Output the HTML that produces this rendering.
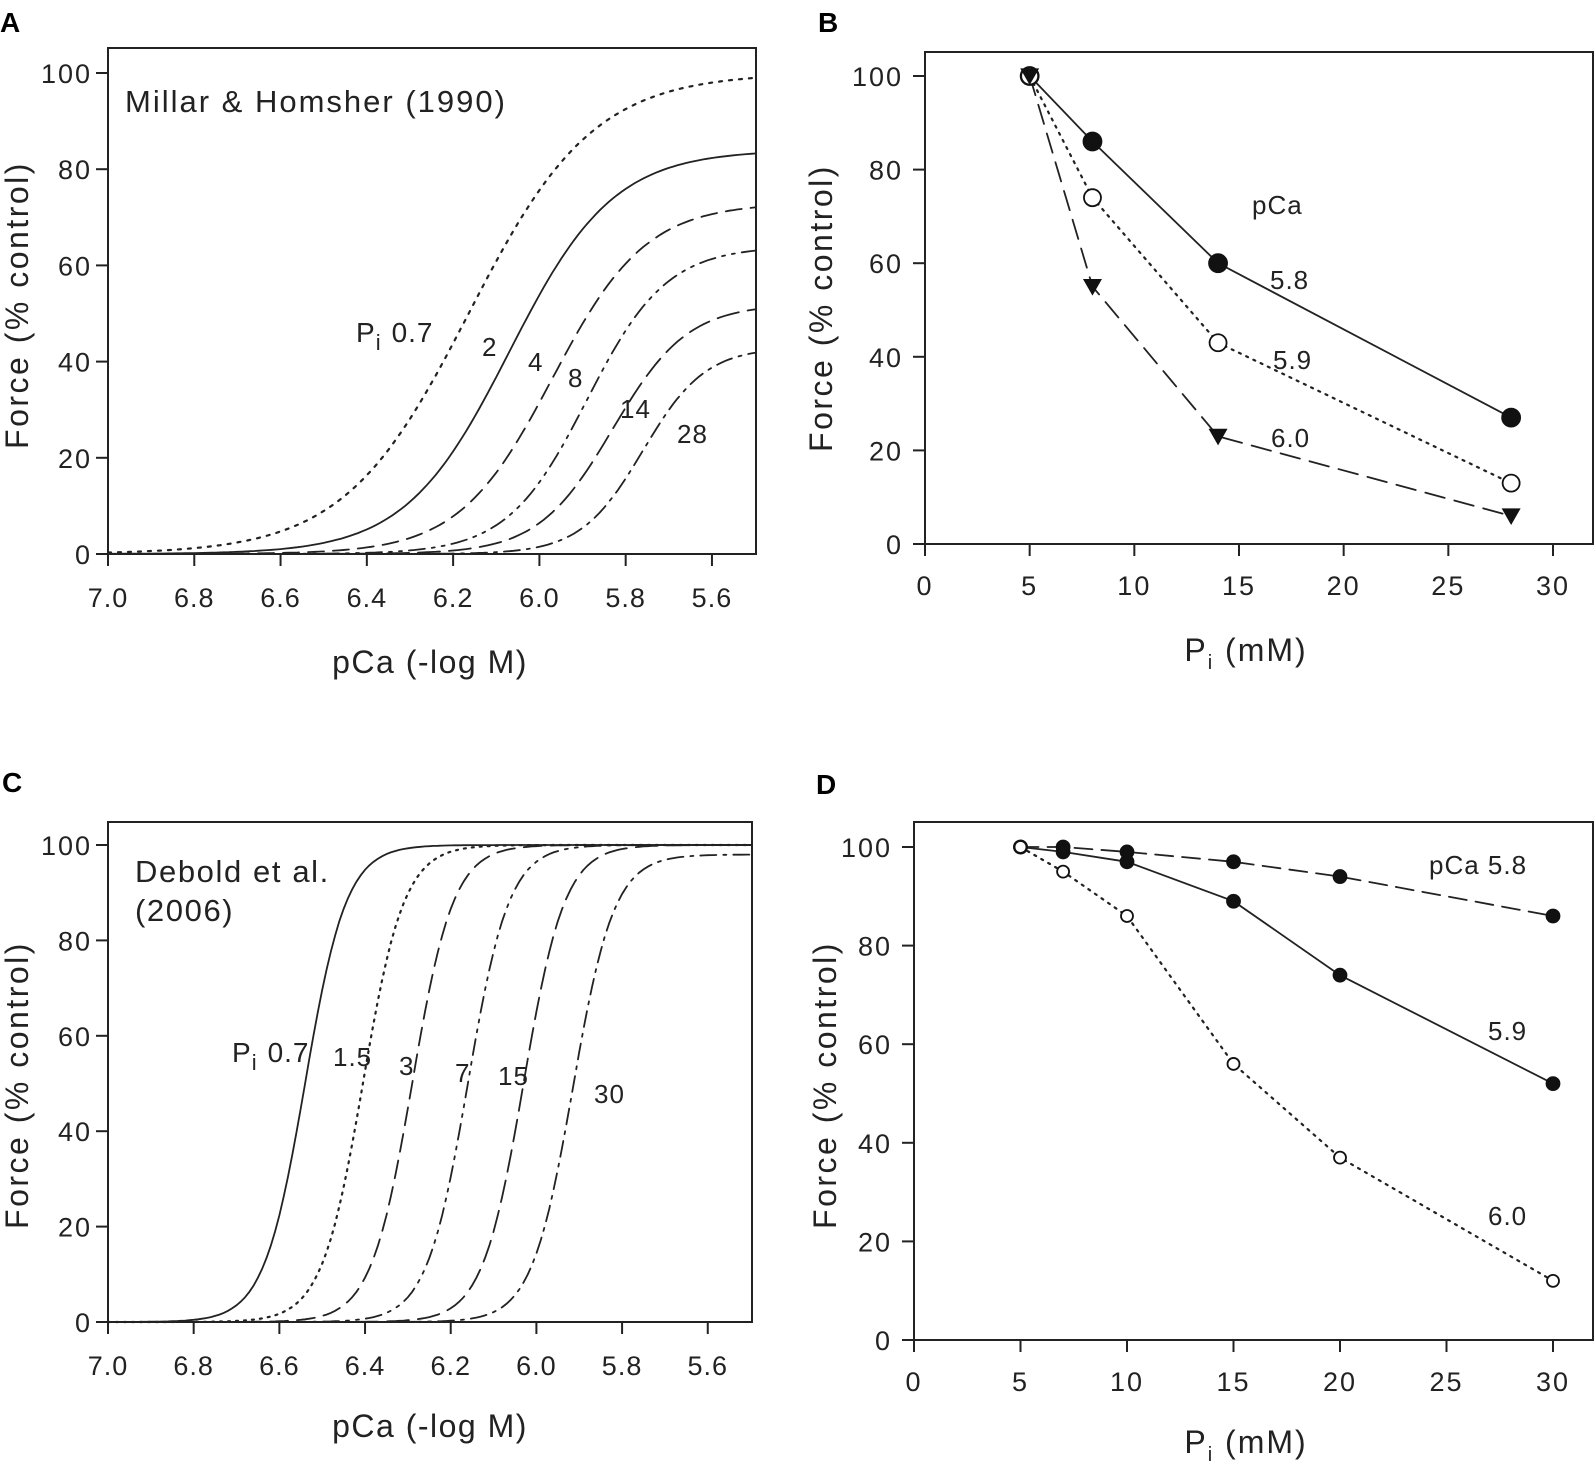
<!DOCTYPE html>
<html><head><meta charset="utf-8"><style>
html,body{margin:0;padding:0;background:#fff;}
svg{display:block;font-family:"Liberation Sans",Arial,sans-serif;}
</style></head><body>
<svg id="fig" width="1596" height="1462" viewBox="0 0 1596 1462">
<text x="0" y="32" font-size="28" font-weight="bold">A</text>
<text x="818" y="32" font-size="28" font-weight="bold">B</text>
<text x="2" y="792" font-size="28" font-weight="bold">C</text>
<text x="816" y="794" font-size="28" font-weight="bold">D</text>
<text x="125" y="112" font-size="31" letter-spacing="2" fill="#222">Millar &amp; Homsher (1990)</text>
<text x="135" y="882" font-size="31" letter-spacing="1.6" fill="#222">Debold et al.</text>
<text x="135" y="921" font-size="31" letter-spacing="1.6" fill="#222">(2006)</text>
</svg>
<script>
// Panel A: Hill fit parameters (max force, pCa50, Hill n) per Pi
const aPi = ['0.7','2','4','8','14','28'];
const aMax = [100, 84, 73, 64, 52, 43];
const aPca50 = [6.164, 6.07, 5.97, 5.89, 5.83, 5.76];
const aHill = [3.0, 3.6, 4.0, 4.7, 5.0, 6.0];
// Panel C
const cPi = ['0.7','1.5','3','7','15','30'];
const cMax = [100, 100, 100, 100, 100, 98];
const cPca50 = [6.54, 6.405, 6.29, 6.16, 6.03, 5.915];
const cHill = [9, 9, 9, 9, 9, 9];
const pcaTicks = ['7.0','6.8','6.6','6.4','6.2','6.0','5.8','5.6'];
const forceTicks = [0,20,40,60,80,100];
const piTicks = [0,5,10,15,20,25,30];
// Panel B
const bX = [5, 8, 14, 28];
const b58 = [100, 86, 60, 27];
const b59 = [100, 74, 43, 13];
const b60 = [100, 55, 23, 6];
// Panel D
const dX = [5, 7, 10, 15, 20, 30];
const d58 = [100, 100, 99, 97, 94, 86];
const d59 = [100, 99, 97, 89, 74, 52];
const d60 = [100, 95, 86, 56, 37, 12];

const NS = 'http://www.w3.org/2000/svg';
const svg = document.getElementById('fig');
function mk(tag, attrs, parent) {
  const e = document.createElementNS(NS, tag);
  for (const k in attrs) e.setAttribute(k, attrs[k]);
  (parent || svg).appendChild(e);
  return e;
}
function txt(x, y, s, size, anchor, parent) {
  const t = mk('text', {x: x, y: y, 'font-size': size, 'text-anchor': anchor || 'start', fill: '#222'}, parent);
  t.textContent = s;
  return t;
}
const dashes = ['3,7', 'none', '16,9', '16,7,3,7,3,7', '22,9', '16,7,3,7'];
const dashesC = ['none', '2,6', '18,9', '16,7,3,7,3,7', '22,9', '16,7,3,7'];
const TF = 27;

function pcaPanel(g, box, maxs, p50s, ns, dashArr, name) {
  const sx = v => box.x70 + (7.0 - v) * box.perUnit;
  const sy = v => box.y0 - v * (box.y0 - box.y100) / 100;
  mk('rect', {x: box.l, y: box.t, width: box.r - box.l, height: box.b - box.t, fill: 'none', stroke: '#222', 'stroke-width': 2}, g);
  forceTicks.forEach(v => {
    const y = sy(v);
    const tk = mk('line', {x1: box.l - 12, x2: box.l, y1: y, y2: y, stroke: '#222', 'stroke-width': 2}, g);
    
    
    const lb = txt(box.l - 16, y + 10, String(v), TF, 'end', g);
    lb.setAttribute('letter-spacing', '2');
    
    
  });
  pcaTicks.forEach(s => {
    const x = sx(parseFloat(s));
    const tk = mk('line', {x1: x, x2: x, y1: box.b, y2: box.b + 12, stroke: '#222', 'stroke-width': 2}, g);
    
    
    const lb = txt(x, box.b + 53, s, TF, 'middle', g);
    lb.setAttribute('letter-spacing', '1');
    
    
  });
  maxs.forEach((m, i) => {
    let d = '';
    for (let k = 0; k <= 150; k++) {
      const p = 7.0 - k * 0.01;
      const f = m / (1 + Math.pow(10, ns[i] * (p - p50s[i])));
      d += (k ? 'L' : 'M') + sx(p).toFixed(1) + ',' + sy(f).toFixed(1);
    }
    const path = mk('path', {d: d, fill: 'none', stroke: '#222', 'stroke-width': dashArr[i].startsWith('2,') || dashArr[i].startsWith('3,') ? 2.2 : 1.8, 'stroke-dasharray': dashArr[i], 'stroke-linecap': 'round'}, g);
    
    
  });
}

function piPanel(g, box, xs, series, name) {
  const sx = v => box.x0 + v * (box.x30 - box.x0) / 30;
  const sy = v => box.y0 - v * (box.y0 - box.y100) / 100;
  mk('rect', {x: box.l, y: box.t, width: box.r - box.l, height: box.b - box.t, fill: 'none', stroke: '#222', 'stroke-width': 2}, g);
  forceTicks.forEach(v => {
    const y = sy(v);
    const tk = mk('line', {x1: box.l - 12, x2: box.l, y1: y, y2: y, stroke: '#222', 'stroke-width': 2}, g);
    
    
    const lb = txt(box.l - 22, y + 10, String(v), TF, 'end', g);
    lb.setAttribute('letter-spacing', '2');
    
    
  });
  piTicks.forEach(v => {
    const x = sx(v);
    const tk = mk('line', {x1: x, x2: x, y1: box.b, y2: box.b + 12, stroke: '#222', 'stroke-width': 2}, g);
    
    
    const lb = txt(x, box.b + 51, String(v), TF, 'middle', g);
    lb.setAttribute('letter-spacing', '2');
    
    
  });
  series.forEach(s => {
    const pts = xs.map((x, i) => sx(x).toFixed(1) + ',' + sy(s.vals[i]).toFixed(1)).join(' ');
    const pl = mk('polyline', {points: pts, fill: 'none', stroke: '#222', 'stroke-width': s.dash === '2,6' ? 2.2 : 1.8, 'stroke-dasharray': s.dash, 'stroke-linecap': 'round'}, g);
    
    
  });
  series.forEach(s => {
    xs.forEach((x, i) => {
      const cx = sx(x), cy = sy(s.vals[i]);
      let m;
      if (s.marker === 'tri') {
        const r = s.r;
        m = mk('polygon', {points: (cx - r) + ',' + (cy - r * 0.8) + ' ' + (cx + r) + ',' + (cy - r * 0.8) + ' ' + cx + ',' + (cy + r * 0.95), fill: '#111'}, g);
      } else {
        m = mk('circle', {cx: cx, cy: cy, r: s.r, fill: s.marker === 'open' ? '#fff' : '#111', stroke: '#111', 'stroke-width': 1.8}, g);
      }
      
      
    });
  });
}

const gA = mk('g', {});


pcaPanel(gA, {l: 108, r: 756, t: 48, b: 554, x70: 108, perUnit: 431.4, y0: 554, y100: 73}, aMax, aPca50, aHill, dashes, 'panel-a');
const gC = mk('g', {});


pcaPanel(gC, {l: 108, r: 752, t: 822, b: 1322, x70: 108, perUnit: 428.4, y0: 1322, y100: 845}, cMax, cPca50, cHill, dashesC, 'panel-c');
const gB = mk('g', {});


piPanel(gB, {l: 925, r: 1593, t: 52, b: 544, x0: 925, x30: 1553, y0: 544, y100: 76}, bX, [
  {key: 'pca-5-8', vals: b58, dash: 'none', marker: 'filled', r: 9},
  {key: 'pca-5-9', vals: b59, dash: '2,6', marker: 'open', r: 8.5},
  {key: 'pca-6-0', vals: b60, dash: '20,10', marker: 'tri', r: 9.5}
], 'panel-b');
const gD = mk('g', {});


piPanel(gD, {l: 914, r: 1593, t: 822, b: 1340, x0: 914, x30: 1553, y0: 1340, y100: 847}, dX, [
  {key: 'pca-5-8', vals: d58, dash: '18,9', marker: 'filled', r: 6.5},
  {key: 'pca-5-9', vals: d59, dash: 'none', marker: 'filled', r: 6.5},
  {key: 'pca-6-0', vals: d60, dash: '2,6', marker: 'open', r: 6}
], 'panel-d');

function title(x, y, s, rot, name, ls) {
  const t = txt(x, y, s, 32, 'middle');
  t.setAttribute('letter-spacing', ls);
  if (rot) t.setAttribute('transform', 'rotate(-90 ' + x + ' ' + y + ')');
  
  
  return t;
}
title(28, 305, 'Force (% control)', true, 'panel-a-y-title', '2.5');
title(28, 1085, 'Force  (% control)', true, 'panel-c-y-title', '2.5');
title(832, 308, 'Force  (% control)', true, 'panel-b-y-title', '2.5');
title(836, 1085, 'Force  (% control)', true, 'panel-d-y-title', '2.5');
title(430, 673, 'pCa (-log M)', false, 'panel-a-x-title', '1.5');
title(430, 1437, 'pCa (-log M)', false, 'panel-c-x-title', '1.5');
function piTitle(x, y, name) {
  const t = mk('text', {x: x, y: y, 'font-size': 32, 'text-anchor': 'middle', fill: '#222', 'letter-spacing': '2'});
  t.innerHTML = 'P<tspan font-size="20" dy="8">i</tspan><tspan dy="-8"> (mM)</tspan>';
  
  
}
piTitle(1246, 661, 'panel-b-x-title');
piTitle(1246, 1453, 'panel-d-x-title');

function lab(x, y, s, size, name) {
  const t = txt(x, y, s, size || 26, 'start');
  t.setAttribute('letter-spacing', '1');
  
  
}
function piLab(x, y, val, name) {
  const t = mk('text', {x: x, y: y, 'font-size': 28, fill: '#222', 'letter-spacing': '1'});
  t.innerHTML = 'P<tspan font-size="22" dy="8">i</tspan><tspan dy="-8" dx="10">' + val + '</tspan>';
  
  
}
piLab(356, 342, '0.7', 'panel-a-label-pi-0-7');
lab(482, 356, aPi[1], 26, 'panel-a-label-pi-2');
lab(528, 371, aPi[2], 26, 'panel-a-label-pi-4');
lab(568, 387, aPi[3], 26, 'panel-a-label-pi-8');
lab(620, 418, aPi[4], 26, 'panel-a-label-pi-14');
lab(677, 443, aPi[5], 26, 'panel-a-label-pi-28');
piLab(232, 1062, '0.7', 'panel-c-label-pi-0-7');
lab(333, 1066, cPi[1], 26, 'panel-c-label-pi-1-5');
lab(399, 1075, cPi[2], 26, 'panel-c-label-pi-3');
lab(455, 1082, cPi[3], 26, 'panel-c-label-pi-7');
lab(498, 1085, cPi[4], 26, 'panel-c-label-pi-15');
lab(594, 1103, cPi[5], 26, 'panel-c-label-pi-30');
lab(1252, 214, 'pCa', 26, 'panel-b-legend-title');
lab(1270, 289, '5.8', 26, 'panel-b-label-5-8');
lab(1273, 369, '5.9', 26, 'panel-b-label-5-9');
lab(1271, 447, '6.0', 26, 'panel-b-label-6-0');
lab(1429, 874, 'pCa 5.8', 26, 'panel-d-label-5-8');
lab(1488, 1040, '5.9', 26, 'panel-d-label-5-9');
lab(1488, 1225, '6.0', 26, 'panel-d-label-6-0');
</script>
</body></html>
